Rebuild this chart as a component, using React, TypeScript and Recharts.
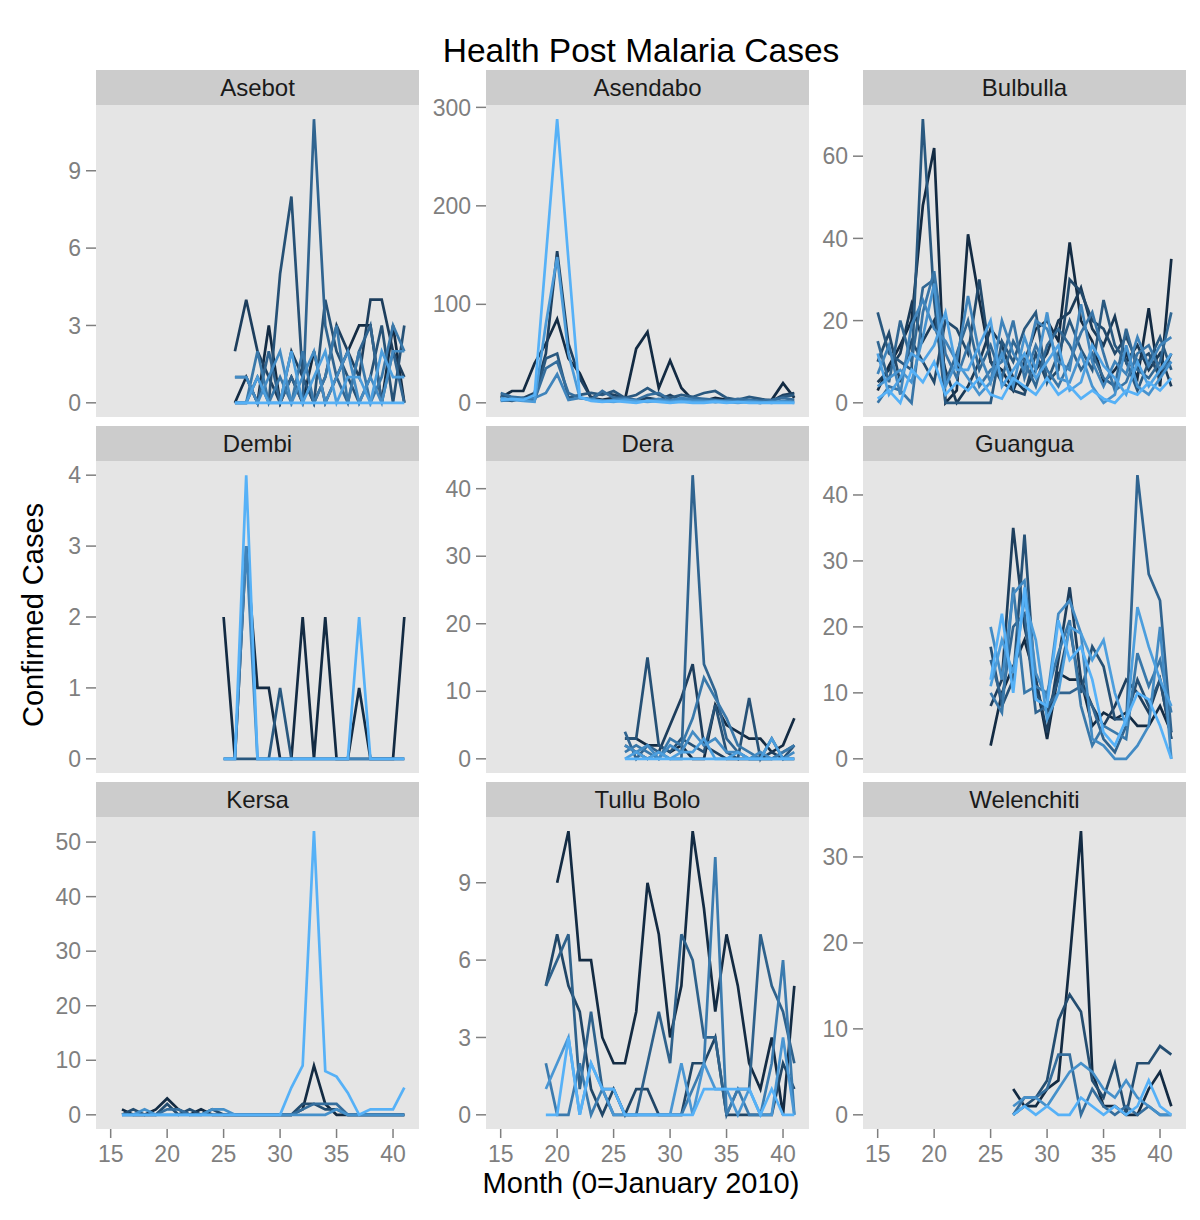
import React from 'react';
import { LineChart, Line, XAxis, YAxis } from 'recharts';

// months shown on the shared x axis
const monthTicks = [15, 20, 25, 30, 35, 40];
const monthDomain = [13.7, 42.3];

// one row per health post, darkest colour first
const asebotStart = 26;
const asebot = [
    [0, 1, 0, 3, 0, 1, 0, 2, 0, 1, 2, 3, 3, 0, 3, 0],
    [2, 4, 2, 1, 0, 2, 1, 0, 1, 3, 2, 1, 4, 4, 2, 1],
    [0, 0, 1, 0, 5, 8, 1, 0, 4, 2, 1, 0, 1, 3, 0, 3],
    [1, 1, 0, 2, 0, 1, 0, 11, 3, 1, 0, 2, 3, 0, 2, 0],
    [0, 0, 2, 0, 1, 0, 2, 0, 1, 3, 0, 2, 0, 1, 3, 2],
    [1, 1, 0, 1, 2, 0, 1, 2, 0, 1, 2, 0, 1, 0, 2, 2],
    [0, 0, 1, 0, 0, 2, 0, 1, 2, 0, 1, 1, 0, 2, 1, 1],
    [0, 0, 0, 0, 0, 0, 0, 0, 0, 0, 0, 0, 0, 0, 0, 0],
];
const asebotTicks = [0, 3, 6, 9];

const asendaboStart = 15;
const asendabo = [
    [5, 12, 12, 40, 60, 85, 45, 30, 5, 3, 5, 3, 55, 72, 15, 43, 15, 3, 2, 5, 3, 2, 1, 2, 3, 20, 5],
    [3, 2, 5, 10, 50, 154, 60, 25, 5, 10, 8, 5, 2, 5, 3, 8, 2, 5, 3, 1, 2, 3, 1, 0, 2, 8, 10],
    [8, 5, 3, 2, 45, 50, 5, 8, 10, 8, 12, 5, 8, 15, 8, 5, 8, 6, 10, 12, 5, 3, 6, 4, 2, 6, 8],
    [10, 6, 5, 3, 35, 42, 10, 5, 3, 12, 5, 5, 3, 8, 10, 3, 3, 5, 4, 3, 2, 4, 3, 2, 3, 5, 3],
    [2, 3, 4, 5, 10, 29, 3, 5, 4, 2, 3, 4, 1, 2, 4, 2, 5, 3, 2, 1, 2, 1, 2, 1, 0, 2, 1],
    [5, 3, 2, 1, 80, 148, 50, 5, 3, 2, 1, 3, 2, 1, 2, 1, 2, 1, 1, 2, 1, 0, 1, 0, 1, 1, 0],
    [3, 4, 3, 8, 148, 288, 145, 6, 2, 1, 2, 1, 0, 2, 1, 0, 1, 0, 0, 1, 0, 1, 0, 0, 0, 0, 0],
];
const asendaboTicks = [0, 100, 200, 300];

const bulbullaStart = 15;
const bulbulla = [
    [3, 9, 14, 20, 48, 62, 0, 3, 41, 25, 10, 8, 3, 10, 18, 20, 15, 39, 20, 15, 5, 8, 12, 6, 23, 4, 35],
    [5, 8, 12, 24, 15, 20, 8, 0, 4, 10, 18, 14, 6, 3, 8, 12, 20, 22, 28, 18, 14, 21, 10, 14, 8, 12, 4],
    [10, 17, 5, 15, 10, 5, 20, 18, 12, 30, 10, 5, 3, 2, 12, 5, 8, 30, 27, 20, 18, 12, 16, 10, 12, 6, 12],
    [22, 12, 10, 8, 69, 25, 0, 0, 0, 0, 0, 15, 10, 18, 22, 5, 12, 20, 13, 8, 25, 14, 10, 3, 10, 16, 8],
    [15, 5, 20, 10, 28, 30, 5, 12, 20, 8, 14, 6, 15, 10, 4, 14, 18, 14, 8, 12, 6, 4, 18, 8, 6, 10, 22],
    [0, 4, 3, 0, 22, 32, 12, 6, 14, 4, 8, 10, 20, 6, 14, 8, 4, 10, 17, 22, 12, 3, 5, 12, 14, 8, 10],
    [7, 14, 2, 19, 25, 18, 15, 10, 26, 12, 5, 20, 12, 8, 20, 18, 10, 8, 24, 10, 4, 10, 7, 16, 9, 14, 16],
    [4, 6, 8, 5, 16, 29, 4, 10, 6, 2, 5, 12, 4, 16, 8, 22, 6, 5, 12, 4, 0, 2, 14, 4, 2, 6, 10],
    [12, 2, 6, 12, 10, 14, 22, 8, 8, 14, 20, 4, 8, 12, 6, 10, 14, 3, 5, 14, 9, 6, 2, 10, 4, 8, 12],
    [1, 3, 0, 8, 5, 10, 2, 5, 3, 6, 2, 1, 6, 4, 2, 6, 2, 4, 1, 3, 1, 0, 3, 2, 5, 3, 6],
];
const bulbullaTicks = [0, 20, 40, 60];

const dembiStart = 25;
const dembi = [
    [2, 0, 3, 1, 1, 0, 0, 2, 0, 2, 0, 0, 1, 0, 0, 0, 2],
    [0, 0, 0, 0, 0, 1, 0, 0, 0, 0, 0, 0, 0, 0, 0, 0, 0],
    [0, 0, 3, 0, 0, 0, 0, 0, 0, 0, 0, 0, 0, 0, 0, 0, 0],
    [0, 0, 4, 0, 0, 0, 0, 0, 0, 0, 0, 0, 2, 0, 0, 0, 0],
];
const dembiTicks = [0, 1, 2, 3, 4];

const deraStart = 26;
const dera = [
    [3, 3, 2, 2, 1, 2, 0, 0, 8, 5, 4, 3, 3, 1, 2, 6],
    [2, 1, 0, 1, 5, 9, 14, 2, 1, 0, 0, 0, 0, 1, 0, 0],
    [3, 3, 15, 2, 1, 3, 2, 1, 8, 1, 0, 9, 0, 3, 0, 2],
    [4, 0, 2, 1, 0, 0, 42, 14, 10, 3, 1, 0, 0, 0, 1, 2],
    [1, 2, 1, 0, 3, 2, 6, 12, 9, 6, 2, 1, 0, 0, 1, 2],
    [2, 1, 2, 0, 2, 1, 4, 2, 3, 1, 1, 0, 1, 0, 0, 1],
    [0, 1, 0, 1, 0, 1, 1, 3, 0, 0, 1, 0, 0, 3, 0, 0],
    [0, 0, 0, 0, 0, 0, 0, 0, 0, 0, 0, 0, 0, 0, 0, 0],
];
const deraTicks = [0, 10, 20, 30, 40];

const guanguaStart = 25;
const guangua = [
    [2, 10, 14, 18, 12, 3, 13, 12, 12, 5, 7, 6, 7, 5, 5, 8, 4],
    [8, 12, 35, 20, 12, 4, 15, 26, 12, 8, 5, 8, 12, 10, 7, 12, 3],
    [17, 8, 12, 34, 10, 7, 12, 20, 10, 17, 14, 6, 6, 12, 8, 12, 3],
    [15, 9, 20, 22, 7, 8, 10, 10, 11, 8, 3, 1, 5, 43, 28, 24, 4],
    [10, 7, 26, 10, 11, 10, 16, 21, 8, 2, 5, 4, 3, 16, 11, 15, 7],
    [20, 12, 25, 27, 13, 9, 22, 24, 19, 3, 2, 0, 0, 2, 5, 20, 0],
    [11, 18, 13, 24, 18, 6, 10, 20, 19, 15, 18, 10, 5, 23, 17, 12, 8],
    [12, 22, 10, 26, 9, 8, 21, 15, 17, 12, 4, 2, 6, 10, 9, 5, 0],
];
const guanguaTicks = [0, 10, 20, 30, 40];

const kersaStart = 16;
const kersa = [
    [1, 0, 0, 1, 3, 1, 0, 1, 0, 0, 0, 0, 0, 0, 0, 0, 1, 9, 2, 0, 0, 0, 0, 0, 0, 0],
    [0, 1, 0, 0, 2, 0, 1, 0, 1, 0, 0, 0, 0, 0, 0, 0, 2, 2, 1, 1, 0, 0, 0, 0, 0, 0],
    [0, 0, 0, 0, 1, 1, 0, 0, 0, 0, 0, 0, 0, 0, 0, 0, 1, 2, 2, 2, 0, 0, 0, 0, 0, 0],
    [0, 0, 1, 0, 0, 0, 0, 0, 1, 1, 0, 0, 0, 0, 0, 0, 0, 0, 0, 1, 0, 0, 0, 0, 0, 0],
    [0, 0, 0, 0, 0, 0, 0, 0, 0, 0, 0, 0, 0, 0, 0, 5, 9, 52, 8, 7, 4, 0, 1, 1, 1, 5],
];
const kersaTicks = [0, 10, 20, 30, 40, 50];

const tulluBoloStart = 19;
const tulluBolo = [
    [null, 9, 11, 6, 6, 3, 2, 2, 4, 9, 7, 3, 5, 11, 8, 4, 7, 5, 2, 1, 3, 0, 5],
    [5, 7, 5, 4, 1, 0, 1, 0, 1, 1, 0, 0, 0, 2, 2, 3, 0, 0, 0, 0, 0, 2, 1],
    [5, 6, 7, 1, 4, 1, 0, 0, 0, 2, 4, 2, 7, 6, 3, 3, 0, 1, 1, 7, 5, 4, 2],
    [2, 0, 0, 2, 0, 1, 1, 0, 0, 0, 0, 0, 0, 1, 2, 10, 0, 1, 0, 0, 2, 6, 0],
    [1, 2, 3, 0, 2, 1, 0, 0, 0, 0, 0, 0, 2, 0, 2, 1, 1, 0, 1, 0, 0, 3, 0],
    [0, 0, 3, 0, 2, 1, 1, 0, 0, 0, 0, 0, 0, 0, 1, 1, 1, 1, 1, 0, 1, 0, 0],
];
const tulluBoloTicks = [0, 3, 6, 9];

const welenchitiStart = 27;
const welenchiti = [
    [3, 1, 1, 3, 4, 18, 33, 5, 1, 1, 0, 0, 3, 5, 1],
    [0, 1, 2, 4, 11, 14, 12, 4, 2, 6, 0, 6, 6, 8, 7],
    [0, 2, 2, 3, 7, 7, 0, 3, 1, 0, 1, 0, 1, 0, 0],
    [1, 2, 2, 1, 3, 5, 6, 5, 3, 2, 4, 2, 1, 0, 0],
    [0, 1, 0, 1, 0, 0, 2, 1, 0, 1, 0, 1, 4, 1, 0],
];
const welenchitiTicks = [0, 10, 20, 30];

const FONT = '"Liberation Sans", Arial, Helvetica, sans-serif';
const GREY = '#7F7F7F';
const PANEL_W = 323;
const PANEL_H = 312;
const STRIP_H = 35;
const AXIS_W = 80;
const X_AXIS_H = 45;
const TOP_PAD = 16; // room above the panel so the top tick label is not clipped
const colLefts = [96, 486, 863];
const rowTops = [70, 426, 782];

const LOW = [0x13, 0x2b, 0x43];
const HIGH = [0x56, 0xb1, 0xf7];
const shade = (i: number, n: number) => {
    const t = n <= 1 ? 0 : i / (n - 1);
    const c = LOW.map((v, k) => Math.round(v + (HIGH[k] - v) * t));
    return `rgb(${c[0]},${c[1]},${c[2]})`;
};

interface PanelProps {
    name: string;
    start: number;
    series: (number | null)[][];
    ticks: number[];
    left: number;
    top: number;
    showX: boolean;
}

function Panel({ name, start, series, ticks, left, top, showX }: PanelProps) {
    const len = Math.max(...series.map(s => s.length));
    const rows = Array.from({ length: len }, (_, i) => {
        const row: any = { m: start + i };
        series.forEach((s, k) => { row['s' + k] = s[i] ?? null; });
        return row;
    });
    const max = Math.max(...series.flat().filter((v): v is number => v != null));
    const pad = max * 0.05;
    const xH = showX ? X_AXIS_H : 0;

    return (
        <>
            <div style={{
                position: 'absolute', left, top: top + STRIP_H,
                width: PANEL_W, height: PANEL_H, background: '#E5E5E5',
            }} />
            <div style={{ position: 'absolute', left: left - AXIS_W, top: top + STRIP_H - TOP_PAD }}>
                <LineChart
                    width={AXIS_W + PANEL_W}
                    height={PANEL_H + xH + TOP_PAD}
                    data={rows}
                    margin={{ top: TOP_PAD, right: 0, bottom: 0, left: 0 }}
                >
                    <XAxis
                        type="number"
                        dataKey="m"
                        domain={monthDomain}
                        ticks={monthTicks}
                        interval={0}
                        hide={!showX}
                        height={xH}
                        axisLine={false}
                        tickSize={9}
                        tickMargin={8}
                        tickLine={{ stroke: GREY, strokeWidth: 1.5 }}
                        tick={{ fill: GREY, fontSize: 23, fontFamily: FONT }}
                    />
                    <YAxis
                        type="number"
                        domain={[-pad, max + pad]}
                        ticks={ticks}
                        interval={0}
                        width={AXIS_W}
                        axisLine={false}
                        tickSize={10}
                        tickMargin={5}
                        tickLine={{ stroke: GREY, strokeWidth: 1.5 }}
                        tick={{ fill: GREY, fontSize: 23, fontFamily: FONT }}
                    />
                    {series.map((_, k) => (
                        <Line
                            key={k}
                            type="linear"
                            dataKey={'s' + k}
                            stroke={shade(k, series.length)}
                            strokeWidth={2.7}
                            dot={false}
                            activeDot={false}
                            connectNulls={false}
                            isAnimationActive={false}
                        />
                    ))}
                </LineChart>
            </div>
            <div style={{
                position: 'absolute', left, top, width: PANEL_W, height: STRIP_H,
                background: '#CCCCCC', fontFamily: FONT, fontSize: 24, color: '#1A1A1A',
                display: 'flex', alignItems: 'center', justifyContent: 'center',
            }}>{name}</div>
        </>
    );
}

export default function App() {
    const panels = [
        { name: 'Asebot', start: asebotStart, series: asebot, ticks: asebotTicks },
        { name: 'Asendabo', start: asendaboStart, series: asendabo, ticks: asendaboTicks },
        { name: 'Bulbulla', start: bulbullaStart, series: bulbulla, ticks: bulbullaTicks },
        { name: 'Dembi', start: dembiStart, series: dembi, ticks: dembiTicks },
        { name: 'Dera', start: deraStart, series: dera, ticks: deraTicks },
        { name: 'Guangua', start: guanguaStart, series: guangua, ticks: guanguaTicks },
        { name: 'Kersa', start: kersaStart, series: kersa, ticks: kersaTicks },
        { name: 'Tullu Bolo', start: tulluBoloStart, series: tulluBolo, ticks: tulluBoloTicks },
        { name: 'Welenchiti', start: welenchitiStart, series: welenchiti, ticks: welenchitiTicks },
    ];

    return (
        <div style={{ position: 'absolute', left: 0, top: 0, width: 1200, height: 1220, background: '#FFFFFF' }}>
            <svg width={1200} height={1220} style={{ position: 'absolute', left: 0, top: 0 }}>
                <text x={641} y={62} textAnchor="middle" fontFamily={FONT} fontSize={33.5} fill="#000">
                    Health Post Malaria Cases
                </text>
                <text x={641} y={1193} textAnchor="middle" fontFamily={FONT} fontSize={29} fill="#000">
                    Month (0=January 2010)
                </text>
                <text
                    x={0} y={0}
                    transform="translate(43,615) rotate(-90)"
                    textAnchor="middle" fontFamily={FONT} fontSize={29} fill="#000"
                >
                    Confirmed Cases
                </text>
            </svg>
            {panels.map((p, i) => (
                <Panel
                    key={p.name}
                    {...p}
                    left={colLefts[i % 3]}
                    top={rowTops[Math.floor(i / 3)]}
                    showX={i >= 6}
                />
            ))}
        </div>
    );
}
